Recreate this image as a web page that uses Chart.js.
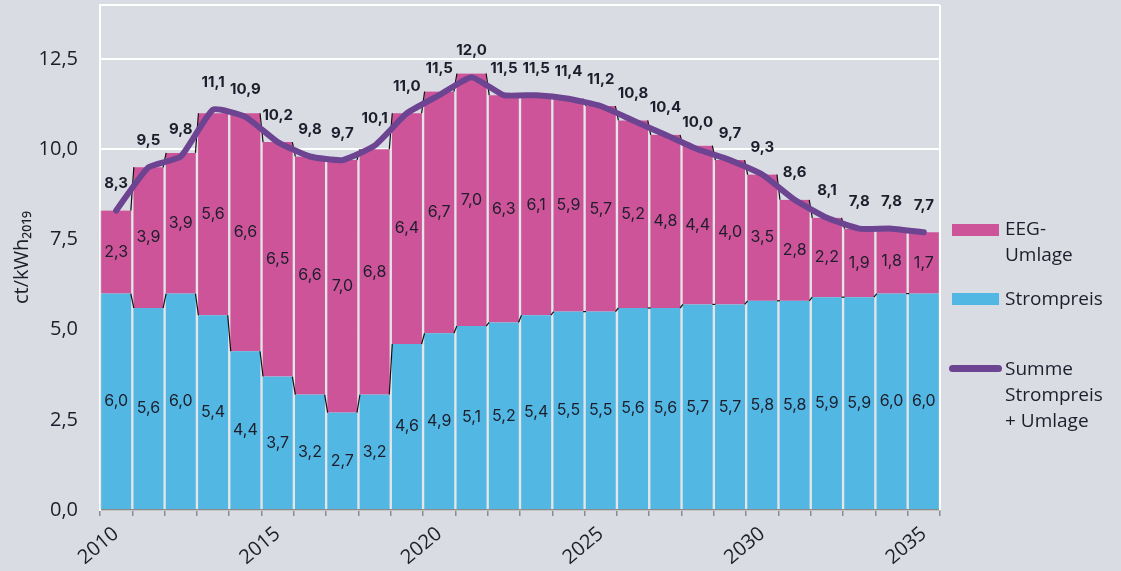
<!DOCTYPE html>
<html><head><meta charset="utf-8">
<script src="https://cdn.jsdelivr.net/npm/chart.js@4.4.1/dist/chart.umd.min.js"></script>
<style>
html,body{margin:0;padding:0;background:#d9dce3;overflow:hidden;}
#wrap{position:relative;width:1121px;height:571px;}
#c{position:absolute;left:0;top:0;}
.lt{position:absolute;font-family:'Open Sans',sans-serif;font-size:19px;line-height:26px;color:#1d1d2b;white-space:nowrap;}
.lb{position:absolute;}
</style></head><body>
<div id="wrap">
<canvas id="c" width="1121" height="571"></canvas>
<div class="lb" style="left:952px;top:224px;width:47px;height:12px;background:#cd5499;"></div>
<div class="lt" style="left:1005px;top:215px;">EEG-<br>Umlage</div>
<div class="lb" style="left:952px;top:293px;width:47px;height:12px;background:#52b8e3;"></div>
<div class="lt" style="left:1005px;top:285px;">Strompreis</div>
<div class="lb" style="left:949px;top:365px;width:53px;height:7px;border-radius:4px;background:#6c4491;"></div>
<div class="lt" style="left:1005px;top:355px;">Summe<br>Strompreis<br>+ Umlage</div>
</div>
<script>
const years = ['2010','2011','2012','2013','2014','2015','2016','2017','2018','2019','2020','2021','2022','2023','2024','2025','2026','2027','2028','2029','2030','2031','2032','2033','2034','2035'];
const strompreis = [6.0,5.6,6.0,5.4,4.4,3.7,3.2,2.7,3.2,4.6,4.9,5.1,5.2,5.4,5.5,5.5,5.6,5.6,5.7,5.7,5.8,5.8,5.9,5.9,6.0,6.0];
const eegUmlage = [2.3,3.9,3.9,5.6,6.6,6.5,6.6,7.0,6.8,6.4,6.7,7.0,6.3,6.1,5.9,5.7,5.2,4.8,4.4,4.0,3.5,2.8,2.2,1.9,1.8,1.7];
const summe = [8.3,9.5,9.8,11.1,10.9,10.2,9.8,9.7,10.1,11.0,11.5,12.0,11.5,11.5,11.4,11.2,10.8,10.4,10.0,9.7,9.3,8.6,8.1,7.8,7.8,7.7];
const yTicks = [0,2.5,5,7.5,10,12.5];
const yMax = 14;

const FONT = "'Open Sans', sans-serif";
const LFONT = "Inter, 'Open Sans', sans-serif";
const TXT = '#1d1d2b';
const fmt = v => v.toFixed(1).replace('.', ',');

const connectorPlugin = {
  id: 'connectors',
  afterDatasetDraw(chart, args) {
    const ds = chart.data.datasets[args.index];
    if (ds.type === 'line') return;
    const els = args.meta.data;
    const ctx = chart.ctx;
    ctx.save();
    ctx.strokeStyle = '#111';
    ctx.lineWidth = 1.2;
    for (let i = 0; i < els.length - 1; i++) {
      const a = els[i], b = els[i + 1];
      ctx.beginPath();
      ctx.moveTo(a.x + a.width / 2 - 1.5, a.y);
      ctx.lineTo(b.x - b.width / 2 + 1.5, b.y);
      ctx.stroke();
    }
    ctx.restore();
  }
};

const labelPlugin = {
  id: 'labels',
  afterDatasetsDraw(chart) {
    const ctx = chart.ctx;
    ctx.save();
    ctx.textAlign = 'center';
    ctx.textBaseline = 'middle';
    ctx.fillStyle = TXT;
    ctx.font = "16px " + LFONT;
    [0, 1].forEach(di => {
      const meta = chart.getDatasetMeta(di);
      const vals = chart.data.datasets[di].data;
      meta.data.forEach((el, i) => {
        ctx.fillText(fmt(vals[i]), el.x, (el.y + el.base) / 2);
      });
    });
    ctx.font = "bold 15px " + LFONT;
    const top = chart.getDatasetMeta(1);
    const ys = chart.scales.y;
    top.data.forEach((el, i) => {
      ctx.fillText(fmt(summe[i]), el.x, ys.getPixelForValue(summe[i]) - 27);
    });
    ctx.restore();
  }
};

new Chart(document.getElementById('c'), {
  data: {
    labels: years,
    datasets: [
      { type: 'bar', label: 'Strompreis', data: strompreis, backgroundColor: '#52b8e3',
        borderColor: '#e4e5e9', borderWidth: {left: 1.5, right: 1.5, top: 0, bottom: 0}, borderSkipped: false,
        barPercentage: 1, categoryPercentage: 1, order: 1, stack: 'bars' },
      { type: 'bar', label: 'EEG-Umlage', data: eegUmlage, backgroundColor: '#cd5499',
        borderColor: '#e4e5e9', borderWidth: {left: 1.5, right: 1.5, top: 0, bottom: 0}, borderSkipped: false,
        barPercentage: 1, categoryPercentage: 1, order: 1, stack: 'bars' },
      { type: 'line', label: 'Summe Strompreis + Umlage', data: summe, borderColor: '#6c4491',
        borderWidth: 6, pointRadius: 0, tension: 0.15, borderCapStyle: 'round', borderJoinStyle: 'round',
        order: 0, stack: 'sum' }
    ]
  },
  options: {
    responsive: false,
    animation: false,
    devicePixelRatio: 1,
    layout: { padding: { left: 0, right: 181, top: 5, bottom: 0 } },
    plugins: { legend: { display: false }, tooltip: { enabled: false } },
    scales: {
      x: {
        stacked: true,
        offset: true,
        grid: { offset: true, drawOnChartArea: false, tickColor: '#8c8c8c', tickLength: 6, lineWidth: 1.5 },
        border: { color: '#8c8c8c', width: 1.5 },
        ticks: {
          autoSkip: false, maxRotation: 40, minRotation: 40, padding: 6, color: TXT,
          font: { family: FONT, size: 20 },
          callback: (v, i) => (parseInt(years[i]) % 5 === 0 ? years[i] : '')
        },
        afterFit: s => { s.height = 61; s.paddingLeft = 0; s.paddingRight = 0; s.paddingTop = 0; s.paddingBottom = 0; }
      },
      y: {
        stacked: true,
        min: 0, max: yMax,
        afterBuildTicks: s => { s.ticks = yTicks.map(v => ({ value: v })).concat([{ value: yMax }]); },
        grid: { color: '#ffffff', lineWidth: 2, drawTicks: false, tickLength: 0 },
        border: { color: '#ffffff', width: 2 },
        ticks: {
          padding: 22, color: TXT, font: { family: FONT, size: 20 },
          callback: v => (yTicks.includes(v) ? fmt(v) : '')
        },
        title: { display: true, text: 'ct/kWh\u2082\u2080\u2081\u2089', color: TXT,
          font: { family: FONT, size: 20 }, padding: { top: 10, bottom: 0 } },
        afterFit: s => { s.width = 100; s.paddingTop = 0; s.paddingBottom = 0; s.paddingLeft = 0; s.paddingRight = 0; }
      }
    }
  },
  plugins: [connectorPlugin, labelPlugin, {
    id: 'borders',
    afterDatasetsDraw(chart) {
      const a = chart.chartArea, ctx = chart.ctx;
      ctx.save();
      ctx.strokeStyle = '#ffffff';
      ctx.lineWidth = 2;
      ctx.beginPath();
      ctx.moveTo(a.right, a.top);
      ctx.lineTo(a.right, a.bottom);
      ctx.stroke();
      ctx.restore();
    }
  }]
});
</script>
</body></html>
